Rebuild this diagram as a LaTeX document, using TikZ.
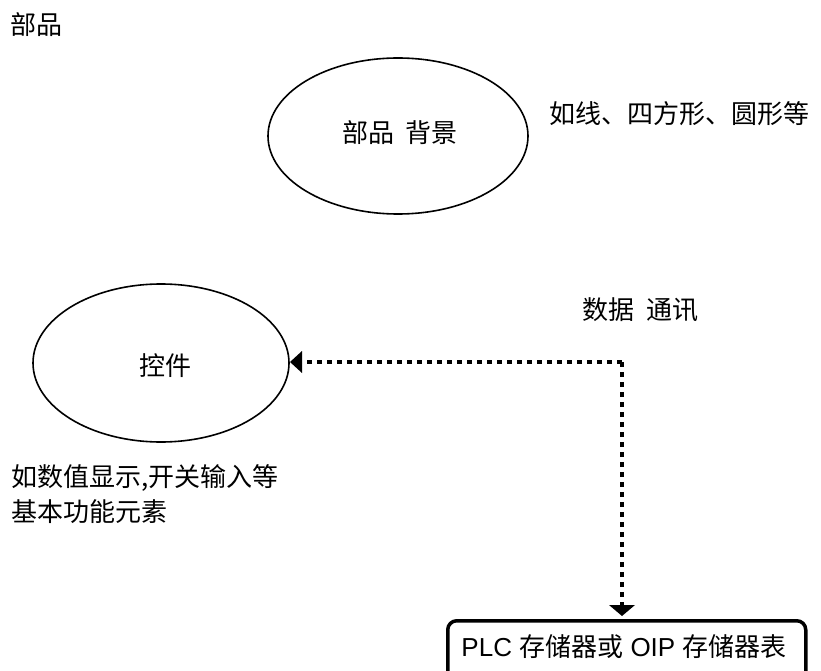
\documentclass[tikz,border=0pt]{standalone}
\usepackage{fontspec}
\setmainfont{Liberation Sans}
\newfontfamily\cjk{Noto Sans CJK SC}
\begin{document}
\begin{tikzpicture}[x=1pt,y=-1pt,
  lbl/.style={font=\cjk\fontsize{26}{30}\selectfont, inner sep=0pt},
  oval/.style={line width=1.6pt},
  comm/.style={line width=4pt, dash pattern=on 5pt off 5pt},
  tipfill/.style={fill=black},
]
\useasboundingbox (0,0) rectangle (821,671);
\clip (0,0) rectangle (821,671);
\node[lbl, anchor=west] (title) at (10,25) {部品};
\draw[oval] (398,136) ellipse [x radius=130, y radius=78];
\node[lbl] (bg) at (400,133) {部品\hspace{12pt}背景};
\node[lbl, anchor=west] (bgnote) at (549,114) {如线、四方形、圆形等};
\draw[oval] (161,363) ellipse [x radius=128, y radius=79];
\node[lbl] (ctl) at (165,366) {控件};
\node[lbl, anchor=west] (ctlnote1) at (11,478) {如数值显示,开关输入等};
\node[lbl, anchor=west] (ctlnote2) at (11,512) {基本功能元素};
\node[lbl, anchor=west] (commlbl) at (582,310) {数据\hspace{12pt}通讯};
\node[draw, line width=3.5pt, rounded corners=9pt, minimum width=358pt, minimum height=80pt, anchor=north west, inner sep=0pt] (mem) at (446,619) {};
\node[lbl, font=\fontsize{26}{30}\selectfont] (memtxt) at (624,647) {PLC {\cjk 存储器或} OIP {\cjk 存储器表}};
\coordinate (corner) at (622,362);
\coordinate (ltip) at (290,362);
\coordinate (dtip) at (622,616);
\draw[comm] (corner) -- (300,362);
\draw[comm] (corner) -- (622,607);
\fill[tipfill] (ltip) -- ++(12,-11) -- ++(0,22) -- cycle;
\fill[tipfill] (dtip) -- ++(-13,-11) -- ++(26,0) -- cycle;
\end{tikzpicture}
\end{document}
